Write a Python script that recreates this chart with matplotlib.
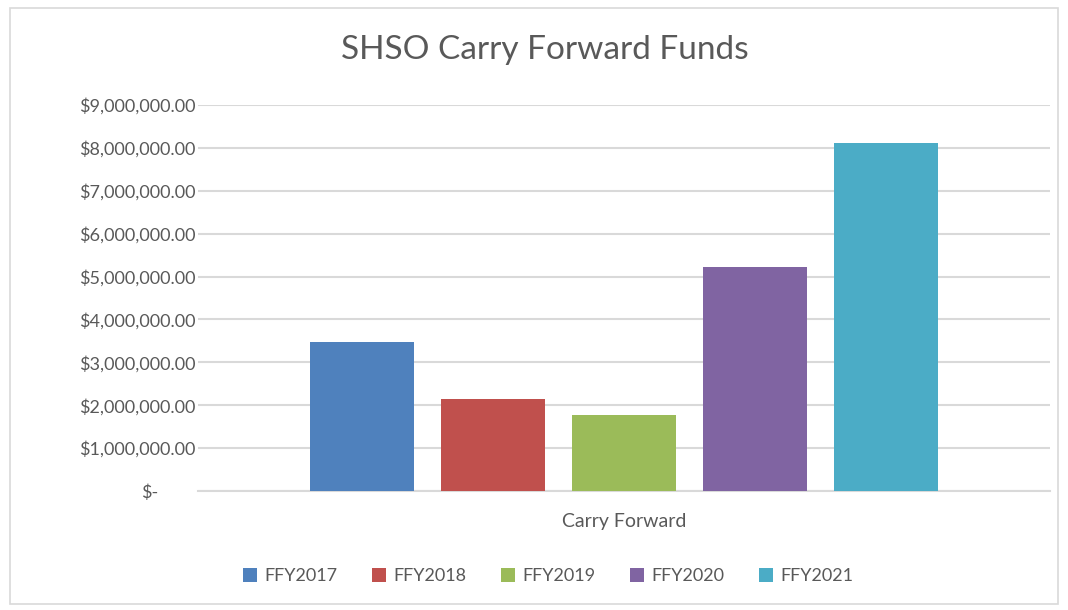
import matplotlib
matplotlib.use("Agg")
import matplotlib.pyplot as plt
from matplotlib.patches import Rectangle, Patch
from matplotlib.ticker import FuncFormatter
import matplotlib.transforms as mtransforms

categories = ["Carry Forward"]
series_names = ["FFY2017", "FFY2018", "FFY2019", "FFY2020", "FFY2021"]
values = [3480000, 2150000, 1770000, 5230000, 8120000]
colors = ["#4F81BD", "#C0504D", "#9BBB59", "#8064A2", "#4BACC6"]
y_ticks = [0, 1e6, 2e6, 3e6, 4e6, 5e6, 6e6, 7e6, 8e6, 9e6]

plt.rcParams['font.family'] = ['Lato', 'DejaVu Sans']
W, H = 1068, 610
fig = plt.figure(figsize=(W / 100, H / 100), dpi=100)
fig.patch.set_facecolor("white")

# chart border
fig.add_artist(Rectangle((10 / W, 1 - 604 / H), 1048 / W, 596 / H, transform=fig.transFigure,
                         fill=False, edgecolor="#d9d9d9", linewidth=1.2))

ax = fig.add_axes([198 / W, 1 - 491 / H, 852 / W, 386 / H])
step = 1.0
bw = 104 / 131
n = len(series_names)
for i, (name, v, c) in enumerate(zip(series_names, values, colors)):
    ax.bar(0 + (i - (n - 1) / 2) * step, v, width=bw, color=c, label=name, zorder=3)

ax.set_xlim(-3.25, 3.25)
ax.set_ylim(0, 9e6)
ax.set_yticks(y_ticks)

def fmt(v, pos):
    if v == 0:
        return "$-"
    return "${:,.2f}".format(v)
ax.yaxis.set_major_formatter(FuncFormatter(fmt))
ax.grid(axis="y", color="#d9d9d9", linewidth=1.5, zorder=0)
ax.set_axisbelow(True)
for s in ["top", "right", "left"]:
    ax.spines[s].set_visible(False)
ax.spines["bottom"].set_color("#d9d9d9")
ax.spines["bottom"].set_linewidth(1.5)
ax.tick_params(axis="y", length=0, pad=2, labelsize=13, labelcolor="#595959")
ax.set_xticks([0])
ax.set_xticklabels(categories)
ax.tick_params(axis="x", length=0, pad=16, labelsize=14, labelcolor="#595959")

fig.canvas.draw()
labels = ax.get_yticklabels()
off = mtransforms.ScaledTranslation(-37 / 100, 0, fig.dpi_scale_trans)
labels[0].set_transform(labels[0].get_transform() + off)

fig.text(545 / W, 1 - 50 / H, "SHSO Carry Forward Funds", ha="center", va="center",
         fontsize=24, color="#595959")

handles = [Patch(facecolor=c, edgecolor="none", label=nm) for nm, c in zip(series_names, colors)]
fig.legend(handles=handles, loc="center", bbox_to_anchor=(548 / W, 1 - 576 / H), ncol=5,
           frameon=False, fontsize=13, labelcolor="#595959", handlelength=0.8, handleheight=0.8,
           handletextpad=0.4, columnspacing=1.9)

fig.savefig("out.png", dpi=100)
